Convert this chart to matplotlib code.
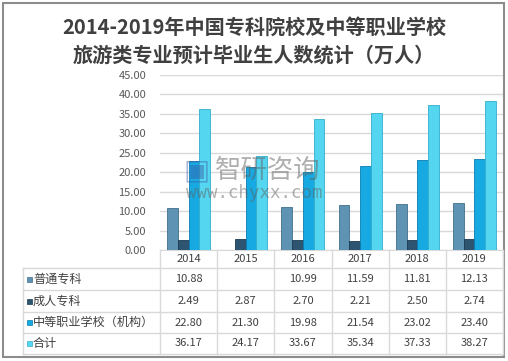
import matplotlib
matplotlib.use("Agg")
import matplotlib.pyplot as plt
import numpy as np

plt.rcParams['font.family'] = ['Noto Sans CJK SC', 'DejaVu Sans']

# 数据
years = ['2014', '2015', '2016', '2017', '2018', '2019']
series_names = ['普通专科', '成人专科', '中等职业学校（机构）', '合计']
putong = [10.88, np.nan, 10.99, 11.59, 11.81, 12.13]
chengren = [2.49, 2.87, 2.70, 2.21, 2.50, 2.74]
zhongdeng = [22.80, 21.30, 19.98, 21.54, 23.02, 23.40]
heji = [36.17, 24.17, 33.67, 35.34, 37.33, 38.27]
yticks = [0, 5, 10, 15, 20, 25, 30, 35, 40, 45]

colors = ['#5E93B3', '#2D5470', '#17A9E1', '#55D6F0']
edges = ['#3F6F8C', '#1C3A50', '#0A7DB0', '#33AECB']
grid_c = '#D9D9D9'
text_c = '#404040'

W, H = 508, 361
fig = plt.figure(figsize=(W / 100, H / 100), dpi=100)

# 主图区 (像素坐标换算)
x0, x1 = 160, 503
y_top, y_bot = 75, 250
ax = fig.add_axes([x0 / W, 1 - y_bot / H, (x1 - x0) / W, (y_bot - y_top) / H])

values = [putong, chengren, zhongdeng, heji]
x = np.arange(len(years))
bw = 0.188
for i, vals in enumerate(values):
    ax.bar(x + (i - 1.5) * bw, vals, width=bw, color=colors[i],
           edgecolor=edges[i], linewidth=0.6, zorder=3)

ax.set_xlim(-0.5, len(years) - 0.5)
ax.set_ylim(0, 45)
ax.set_yticks(yticks)
ax.set_yticklabels([f'{v:.2f}' for v in yticks], fontsize=8, color='#595959',
                   fontweight='medium')
ax.tick_params(axis='y', length=0, pad=10)
ax.set_xticks([])
ax.grid(axis='y', color=grid_c, linewidth=1, zorder=0)
for s in ['left', 'right', 'top']:
    ax.spines[s].set_visible(False)
ax.spines['bottom'].set_color(grid_c)

# 表格 & 标题 叠加层
ov = fig.add_axes([0, 0, 1, 1], zorder=5)
ov.set_xlim(0, W)
ov.set_ylim(H, 0)
ov.axis('off')
ov.patch.set_alpha(0)

# 外框
ov.add_patch(plt.Rectangle((3, 3), 500.5, 354, fill=False, edgecolor='#8C8C8C', linewidth=1.5))

# 标题
ov.text(254, 27, '2014-2019年中国专科院校及中等职业学校', ha='center', va='center',
        fontsize=14.5, fontweight='bold', color=text_c)
ov.text(254, 55, '旅游类专业预计毕业生人数统计（万人）', ha='center', va='center',
        fontsize=14.5, fontweight='bold', color=text_c)

# 水印
ov.text(184, 170, '▣', ha='left', va='center', fontsize=20, color='#3A5BA8', alpha=0.45,
        family=['DejaVu Sans'])
ov.text(268, 170, '智研咨询', ha='center', va='center', fontsize=19, color='#606060', alpha=0.5)
ov.text(254, 193, 'www.chyxx.com', ha='center', va='center', fontsize=12.5,
        color='#606060', alpha=0.5, family=['DejaVu Sans Mono'])

# 表格线
col_w = (x1 - x0) / len(years)
cols = [x0 + k * col_w for k in range(len(years) + 1)]
rows = [250, 268, 290, 312, 333, 354]
tab_left = 23
for cx in cols:
    ov.plot([cx, cx], [rows[0], rows[-1]], color=grid_c, lw=1)
ov.plot([tab_left, tab_left], [rows[1], rows[-1]], color=grid_c, lw=1)
for ry in rows[1:]:
    ov.plot([tab_left, x1], [ry, ry], color=grid_c, lw=1)

# 表头
for k, yr in enumerate(years):
    ov.text((cols[k] + cols[k + 1]) / 2, (rows[0] + rows[1]) / 2 + 0.5, yr,
            ha='center', va='center', fontsize=8, color=text_c, fontweight='medium')

# 数据行
for r, (name, vals) in enumerate(zip(series_names, values)):
    yc = (rows[r + 1] + rows[r + 2]) / 2
    ov.add_patch(plt.Rectangle((27, yc - 2.5), 5, 5, facecolor=colors[r],
                               edgecolor=edges[r], linewidth=0.5))
    ov.text(33, yc, name, ha='left', va='center', fontsize=8.7, color=text_c,
            fontweight='medium')
    for k, v in enumerate(vals):
        if np.isnan(v):
            continue
        ov.text((cols[k] + cols[k + 1]) / 2, yc, f'{v:.2f}', ha='center', va='center',
                fontsize=8, color=text_c, fontweight='medium')

fig.savefig('out.png', dpi=100, facecolor='white')
